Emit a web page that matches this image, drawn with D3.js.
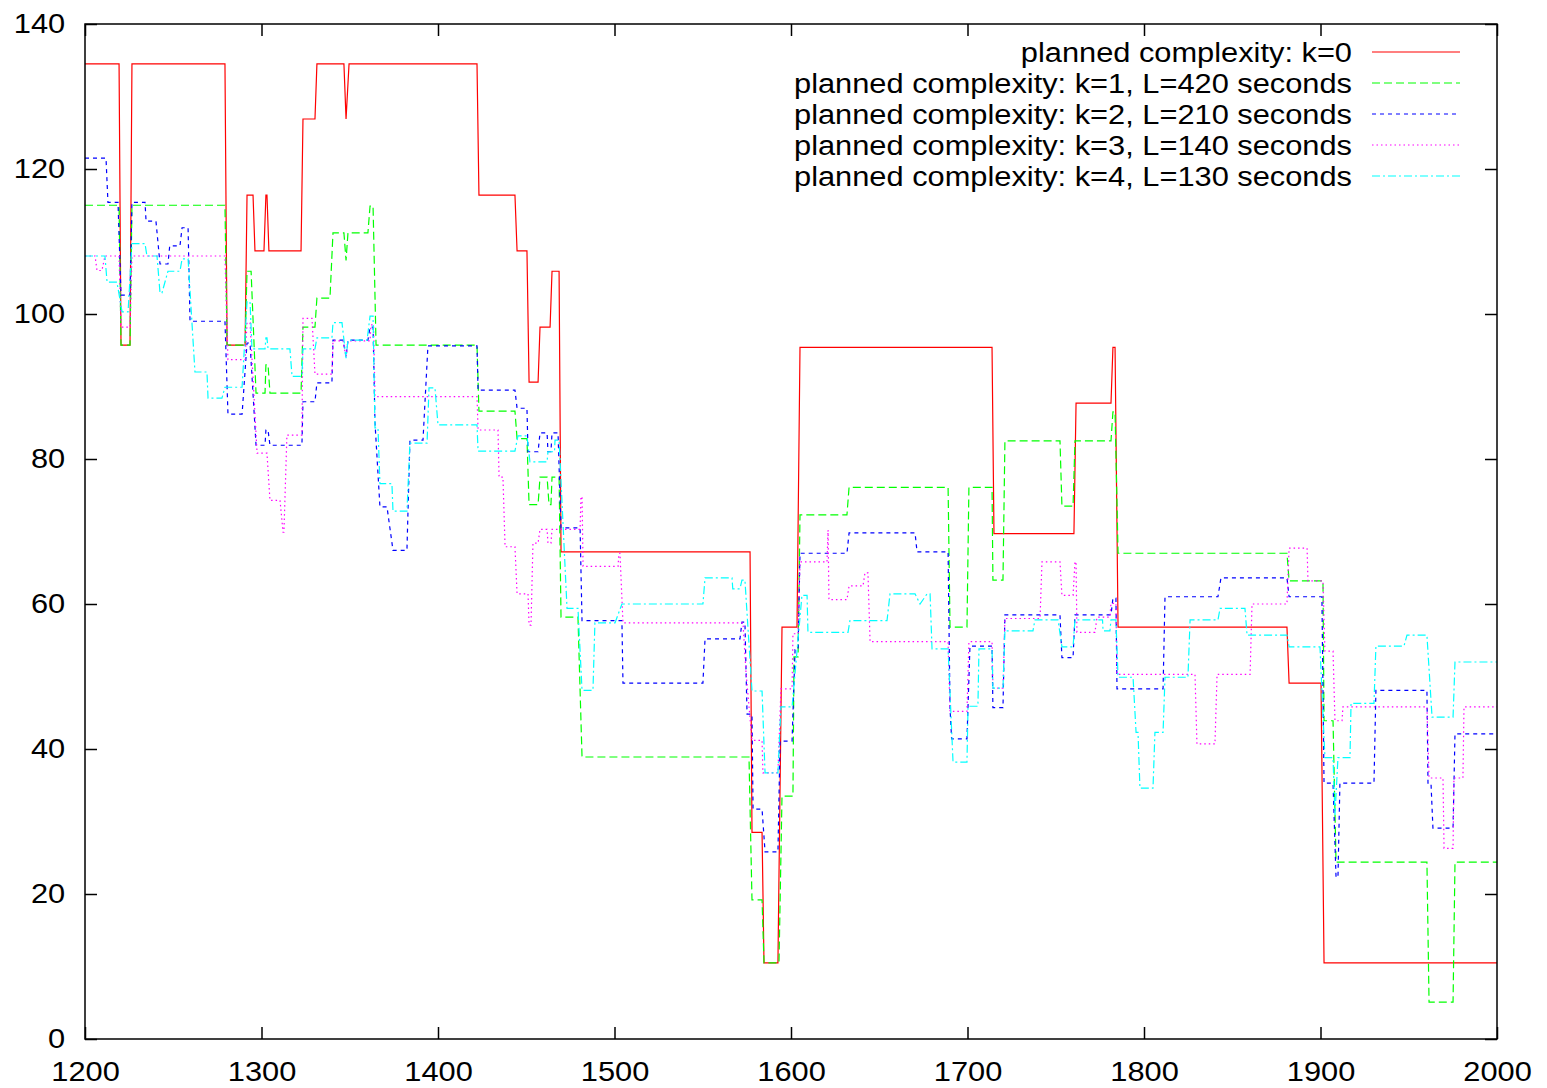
<!DOCTYPE html>
<html>
<head>
<meta charset="utf-8">
<script src="https://cdn.jsdelivr.net/npm/d3@7"></script>
<style>
  body { margin: 0; background: #fff; }
  svg { display: block; }
</style>
</head>
<body>
<div id="chart"></div>
<script>
// step traces, as [time, complexity]
const k0 = [[1200,134.5],[1219.3,134.5],[1220.4,95.7],[1225.5,95.7],[1226.6,134.5],[1279.3,134.5],[1280.5,95.7],[1290.7,95.7],[1291.8,116.4],[1295.2,116.4],[1296.3,108.7],[1301.4,108.7],[1302.5,116.4],[1303.1,116.4],[1304.2,108.7],[1322.4,108.7],[1323.5,126.9],[1330.3,126.9],[1331.4,134.5],[1346.7,134.5],[1347.9,126.9],[1349.6,134.5],[1422.1,134.5],[1423.2,116.4],[1443.6,116.4],[1444.8,108.7],[1450.4,108.7],[1451.6,90.6],[1456.7,90.6],[1457.8,98.2],[1463.5,98.2],[1464.6,105.9],[1468.6,105.9],[1469.7,67.2],[1576.8,67.2],[1577.9,28.5],[1583.6,28.5],[1584.7,10.5],[1592.6,10.5],[1594.9,56.8],[1603.4,56.8],[1605.1,95.4],[1713.9,95.4],[1715.0,69.7],[1760.3,69.7],[1761.5,87.7],[1781.3,87.7],[1782.4,95.4],[1783.6,95.4],[1785.3,56.8],[1881.0,56.8],[1882.2,49.1],[1900.3,49.1],[1902.0,10.5],[2000,10.5]];

const k1 = [[1200,115],[1219.3,115],[1220.4,95.7],[1225.5,95.7],[1226.6,115],[1279.3,115],[1280.5,95.7],[1290.7,95.7],[1291.8,105.9],[1294.1,105.9],[1296.9,89.1],[1302.0,89.1],[1302.5,93],[1303.7,93],[1304.8,89.1],[1322.4,89.1],[1323.5,98.2],[1330.3,98.2],[1331.4,102.2],[1338.8,102.2],[1340.5,111.2],[1346.7,111.2],[1347.9,107.4],[1349.0,111.2],[1360.3,111.2],[1361.5,114.9],[1363.2,114.9],[1364.9,95.7],[1422.1,95.7],[1423.2,86.6],[1443.6,86.6],[1444.8,82.8],[1450.4,82.8],[1451.6,73.7],[1456.7,73.7],[1457.8,77.5],[1461.8,77.5],[1462.9,73.7],[1464.0,73.7],[1464.6,77.5],[1468.6,77.5],[1469.7,58.2],[1479.3,58.2],[1481.6,38.9],[1576.2,38.9],[1577.9,19.2],[1583.6,19.2],[1584.7,10.5],[1593.2,10.5],[1594.9,33.5],[1601.1,33.5],[1601.7,52.7],[1604.0,52.7],[1605.1,72.3],[1631.7,72.3],[1632.9,76.1],[1689.0,76.1],[1690.1,56.8],[1699.7,56.8],[1700.8,76.1],[1713.9,76.1],[1714.4,63.3],[1720.1,63.3],[1721.2,82.5],[1752.4,82.5],[1753.5,73.5],[1759.8,73.5],[1760.9,82.5],[1781.3,82.5],[1782.4,86.5],[1783.6,86.5],[1785.3,67.0],[1881.0,67.0],[1882.2,63.2],[1901.4,63.2],[1902.0,43.9],[1907.1,43.9],[1908.8,24.4],[1960.3,24.4],[1961.5,5.1],[1975.1,5.1],[1976.2,24.4],[2000,24.4]];

const k2 = [[1200,121.5],[1211.9,121.5],[1213.0,115.4],[1218.7,115.4],[1220.4,102.6],[1225.5,102.6],[1226.6,115.4],[1234.0,115.4],[1234.6,112.8],[1240.2,112.8],[1242.5,106.9],[1247.0,106.9],[1248.0,109.4],[1253.8,109.4],[1255.0,111.9],[1258.4,111.9],[1259.5,99.0],[1279.3,99.0],[1281.0,86.2],[1289.0,86.2],[1291.8,96],[1293.5,96],[1296.9,81.9],[1302.0,81.9],[1302.5,84],[1303.7,84],[1304.8,81.9],[1322.9,81.9],[1323.5,87.9],[1330.3,87.9],[1331.4,90.5],[1339.9,90.5],[1340.5,96.4],[1346.2,96.4],[1347.9,94.1],[1349.0,96.4],[1360.3,96.4],[1361.5,98.2],[1363.2,98.2],[1364.3,85],[1367.1,73.4],[1371.1,73.4],[1374.5,67.4],[1382.4,67.4],[1384.1,82.6],[1391.5,82.6],[1394.3,95.6],[1422.1,95.6],[1422.7,89.5],[1443.6,89.5],[1444.8,87.0],[1450.4,87.0],[1451.0,81.0],[1456.7,81.0],[1457.8,83.6],[1461.8,83.6],[1462.3,81.0],[1464.0,81.0],[1464.6,83.6],[1468.0,83.6],[1469.7,70.5],[1480.5,70.5],[1481.6,57.7],[1504.2,57.7],[1504.8,49.1],[1550.1,49.1],[1551.3,55.2],[1571.1,55.2],[1572.2,57.5],[1573.9,57.5],[1575.1,44.8],[1577.9,44.8],[1578.5,31.7],[1583.6,31.7],[1585.3,25.8],[1592.6,25.8],[1593.8,41.1],[1600.6,41.1],[1602.3,53.7],[1604.0,53.7],[1605.1,67.0],[1631.7,67.0],[1632.9,69.8],[1670.3,69.8],[1671.4,67.2],[1689.0,67.2],[1690.1,45.6],[1691.0,41.4],[1699.7,41.4],[1701.4,54.2],[1713.9,54.2],[1714.4,45.7],[1720.1,45.7],[1721.2,58.5],[1752.4,58.5],[1753.5,52.6],[1759.8,52.6],[1760.9,58.5],[1781.3,58.5],[1782.4,60.8],[1784.1,60.8],[1784.7,48.3],[1810.8,48.3],[1811.9,61.0],[1841.9,61.0],[1843.6,63.6],[1881.0,63.6],[1882.2,61.0],[1900.8,61.0],[1902.0,35.3],[1907.1,35.3],[1908.8,22.3],[1909.9,22.3],[1911.0,35.3],[1930.3,35.3],[1931.4,48.1],[1960.3,48.1],[1960.9,35.3],[1962.6,35.3],[1963.7,29.1],[1975.1,29.1],[1976.2,42.1],[2000,42.1]];

const k3 = [[1200,108],[1205.7,108],[1206.8,106],[1209.6,106],[1211.3,108],[1219.3,108],[1220.4,98.2],[1225.5,98.2],[1226.6,108],[1279.3,108],[1281.0,93.7],[1290.7,93.7],[1291.8,98.8],[1293.5,98.8],[1297.5,80.8],[1303.1,80.8],[1304.8,74.3],[1310.5,74.3],[1312.2,69.9],[1312.7,69.9],[1314.4,83.3],[1322.9,83.3],[1323.5,99.4],[1328.6,99.4],[1330.3,91.7],[1339.9,91.7],[1340.5,96.3],[1346.2,96.3],[1347.9,94],[1349.0,96.3],[1361.5,96.3],[1362.0,98.5],[1363.5,98.5],[1364.3,88.6],[1422.1,88.6],[1422.7,84.0],[1434.0,84.0],[1434.6,77.5],[1436.8,77.5],[1438.0,67.9],[1443.6,67.9],[1444.8,61.4],[1451.0,61.4],[1451.6,57.1],[1452.7,57.1],[1453.8,68.4],[1456.7,68.4],[1457.8,70.3],[1461.8,70.3],[1462.3,68.4],[1464.0,68.4],[1464.6,70.3],[1480.5,70.3],[1481.0,74.8],[1481.6,74.8],[1482.2,65.2],[1502.0,65.2],[1502.5,67.0],[1503.1,67.0],[1504.8,57.4],[1572.8,57.4],[1574.5,50.6],[1577.9,41.2],[1583.6,41.2],[1584.1,36.7],[1592.6,36.7],[1594.3,48.3],[1600.6,48.3],[1601.1,55.9],[1604.0,55.9],[1605.1,65.8],[1620.4,65.8],[1621.0,70.2],[1621.5,60.6],[1631.7,60.6],[1632.9,62.5],[1640.8,62.5],[1641.9,64.3],[1643.6,64.3],[1644.8,54.8],[1689.0,54.8],[1690.1,45.2],[1699.7,45.2],[1700.8,54.8],[1713.9,54.8],[1714.4,48.4],[1720.1,48.4],[1721.2,58.0],[1741.1,58.0],[1742.2,65.8],[1752.4,65.8],[1753.5,61.2],[1759.8,61.2],[1760.9,65.8],[1761.5,65.8],[1762.0,56.1],[1772.2,56.1],[1773.4,58.2],[1780.7,58.2],[1781.3,60.1],[1784.1,60.1],[1784.7,50.3],[1828.9,50.3],[1830.0,40.7],[1840.2,40.7],[1841.4,50.3],[1860.1,50.3],[1861.2,60.0],[1881.0,60.0],[1882.2,67.7],[1892.4,67.7],[1892.9,63.2],[1901.4,63.2],[1902.5,53.5],[1907.1,53.5],[1908.2,43.9],[1912.2,43.9],[1912.7,45.8],[1960.3,45.8],[1961.5,36.0],[1969.4,36.0],[1970.0,26.3],[1975.1,26.3],[1975.6,36.0],[1980.7,36.0],[1981.3,45.8],[2000,45.8]];

const k4 = [[1200,108],[1211.3,108],[1212.5,104.4],[1218.1,104.4],[1221.0,100.3],[1224.4,100.3],[1226.6,109.7],[1234.0,109.7],[1235.1,108],[1240.8,108],[1242.5,102.9],[1243.6,102.9],[1247.0,105.9],[1253.8,105.9],[1255.0,107.6],[1258.4,107.6],[1262.3,92.0],[1269.1,92.0],[1269.7,88.4],[1277.6,88.4],[1279.3,89.9],[1289.0,89.9],[1291.8,101.7],[1293.5,101.7],[1294.6,95.2],[1302.0,95.2],[1302.5,96.7],[1303.1,96.7],[1303.7,95.2],[1316.1,95.2],[1317.3,91.4],[1322.9,91.4],[1323.5,95.2],[1330.3,95.2],[1331.4,96.7],[1339.9,96.7],[1340.5,98.8],[1345.6,98.8],[1347.9,93.9],[1349.0,96.4],[1359.8,96.4],[1361.5,99.7],[1363.2,99.7],[1364.3,84.3],[1366.0,84.3],[1367.1,76.6],[1373.9,76.6],[1374.5,72.8],[1382.4,72.8],[1384.1,82.2],[1393.8,82.2],[1394.9,89.8],[1398.3,89.8],[1400.0,84.7],[1422.1,84.7],[1422.7,81.1],[1443.6,81.1],[1445.3,83.2],[1450.4,83.2],[1452.1,79.6],[1461.8,79.6],[1462.3,81.0],[1466.0,81.0],[1466.3,82.6],[1468.6,82.6],[1473.1,59.4],[1479.3,59.4],[1481.6,48.1],[1487.8,48.1],[1488.9,57.4],[1500.3,57.4],[1504.2,60.0],[1550.1,60.0],[1551.3,63.6],[1566.6,63.6],[1567.0,62.1],[1571.1,62.1],[1572.2,63.3],[1573.9,63.3],[1577.9,48.0],[1583.6,48.0],[1585.3,36.7],[1592.6,36.7],[1594.3,45.8],[1600.6,45.8],[1606.2,61.2],[1609.1,61.2],[1609.6,56.1],[1632.3,56.1],[1633.4,57.7],[1654.4,57.7],[1656.1,61.4],[1670.3,61.4],[1673.1,60.0],[1677.1,61.4],[1678.8,61.4],[1679.9,53.8],[1689.0,53.8],[1691.8,38.2],[1699.7,38.2],[1700.3,45.9],[1705.9,45.9],[1706.5,53.8],[1713.9,53.8],[1714.4,48.4],[1720.1,48.4],[1721.2,56.3],[1737.1,56.3],[1738.2,57.8],[1751.3,57.8],[1753.5,54.1],[1759.8,54.1],[1760.9,57.8],[1776.5,57.8],[1776.8,56.3],[1780.7,56.3],[1781.3,57.8],[1784.1,57.8],[1785.3,49.9],[1793.8,49.9],[1795.5,42.3],[1796.6,42.3],[1797.7,34.6],[1805.1,34.6],[1806.2,42.3],[1810.8,42.3],[1811.9,49.9],[1824.9,49.9],[1826.1,57.8],[1841.9,57.8],[1843.1,59.4],[1857.2,59.4],[1858.4,55.7],[1881.0,55.7],[1882.2,54.1],[1899.7,54.1],[1902.5,38.8],[1907.1,38.8],[1908.2,30.9],[1909.9,38.8],[1916.7,38.8],[1917.3,46.3],[1930.3,46.3],[1931.4,54.2],[1947.3,54.2],[1949.0,55.7],[1960.3,55.7],[1963.2,44.4],[1975.1,44.4],[1976.2,52.0],[2000,52.0]];

const seriesLabels = [
  "planned complexity: k=0",
  "planned complexity: k=1, L=420 seconds",
  "planned complexity: k=2, L=210 seconds",
  "planned complexity: k=3, L=140 seconds",
  "planned complexity: k=4, L=130 seconds"
];
const seriesValues = [k0, k1, k2, k3, k4];
const xTicks = [1200, 1300, 1400, 1500, 1600, 1700, 1800, 1900, 2000];
const yTicks = [0, 20, 40, 60, 80, 100, 120, 140];

// gnuplot default line types
const colors = ["#ff0000", "#00ff00", "#0000ff", "#ff00ff", "#00ffff"];
const dashes = [null, "8,4", "4,4", "1.5,3", "8,3,2,3"];

const W = 1547, H = 1088;
const margin = { top: 24, right: 50, bottom: 49, left: 85 };
const fontFamily = "'Liberation Sans', Arial, Helvetica, sans-serif";
const fontSize = "28px";
const stretch = 1.1;   // the original font is a bit wider than Liberation Sans

const svg = d3.select("#chart").append("svg")
  .attr("width", W)
  .attr("height", H);

const x = d3.scaleLinear().domain([1200, 2000]).range([margin.left, W - margin.right]);
const y = d3.scaleLinear().domain([0, 140]).range([H - margin.bottom, margin.top]);

svg.append("clipPath").attr("id", "plot-clip")
  .append("rect")
  .attr("x", margin.left).attr("y", margin.top)
  .attr("width", x.range()[1] - margin.left)
  .attr("height", y.range()[0] - margin.top);

const line = d3.line().x(d => x(d[0])).y(d => y(d[1]));

const plot = svg.append("g").attr("clip-path", "url(#plot-clip)");
plot.selectAll("path.trace")
  .data(seriesValues)
  .join("path")
  .attr("class", "trace")
  .attr("d", line)
  .attr("fill", "none")
  .attr("stroke", (d, i) => colors[i])
  .attr("stroke-width", 1.2)
  .attr("stroke-dasharray", (d, i) => dashes[i]);

// axes: ticks pointing inwards on all four sides, gnuplot style
const tickLen = 12;
const styleAxis = g => {
  g.select(".domain").remove();
  g.selectAll("line").attr("stroke", "#000").attr("stroke-width", 1.5);
  g.selectAll("text")
    .attr("font-family", fontFamily)
    .attr("font-size", fontSize)
    .attr("fill", "#000")
    .attr("transform", `scale(${stretch},1)`);
};

svg.append("g")
  .attr("transform", `translate(0,${y(0)})`)
  .call(d3.axisBottom(x).tickValues(xTicks).tickFormat(d3.format("d")).tickSizeInner(-tickLen).tickPadding(22))
  .call(styleAxis);

svg.append("g")
  .attr("transform", `translate(0,${y(140)})`)
  .call(d3.axisTop(x).tickValues(xTicks).tickSizeInner(-tickLen).tickFormat(""))
  .call(styleAxis);

svg.append("g")
  .attr("transform", `translate(${x(1200)},0)`)
  .call(d3.axisLeft(y).tickValues(yTicks).tickFormat(d3.format("d")).tickSizeInner(-tickLen).tickPadding(18))
  .call(styleAxis);

svg.append("g")
  .attr("transform", `translate(${x(2000)},0)`)
  .call(d3.axisRight(y).tickValues(yTicks).tickSizeInner(-tickLen).tickFormat(""))
  .call(styleAxis);

svg.append("rect")
  .attr("x", x(1200)).attr("y", y(140))
  .attr("width", x(2000) - x(1200))
  .attr("height", y(0) - y(140))
  .attr("fill", "none")
  .attr("stroke", "#000")
  .attr("stroke-width", 1.5);

// legend, top right inside the frame
const legend = svg.append("g");
const legendRows = legend.selectAll("g")
  .data(seriesLabels)
  .join("g")
  .attr("transform", (d, i) => `translate(0,${52 + i * 31})`);

legendRows.append("text")
  .attr("transform", `translate(1352,0) scale(${stretch},1)`)
  .attr("dy", "0.35em")
  .attr("text-anchor", "end")
  .attr("font-family", fontFamily)
  .attr("font-size", fontSize)
  .attr("fill", "#000")
  .text(d => d);

legendRows.append("line")
  .attr("x1", 1372).attr("x2", 1460)
  .attr("y1", 0).attr("y2", 0)
  .attr("stroke", (d, i) => colors[i])
  .attr("stroke-width", 1.2)
  .attr("stroke-dasharray", (d, i) => dashes[i]);
</script>
</body>
</html>
